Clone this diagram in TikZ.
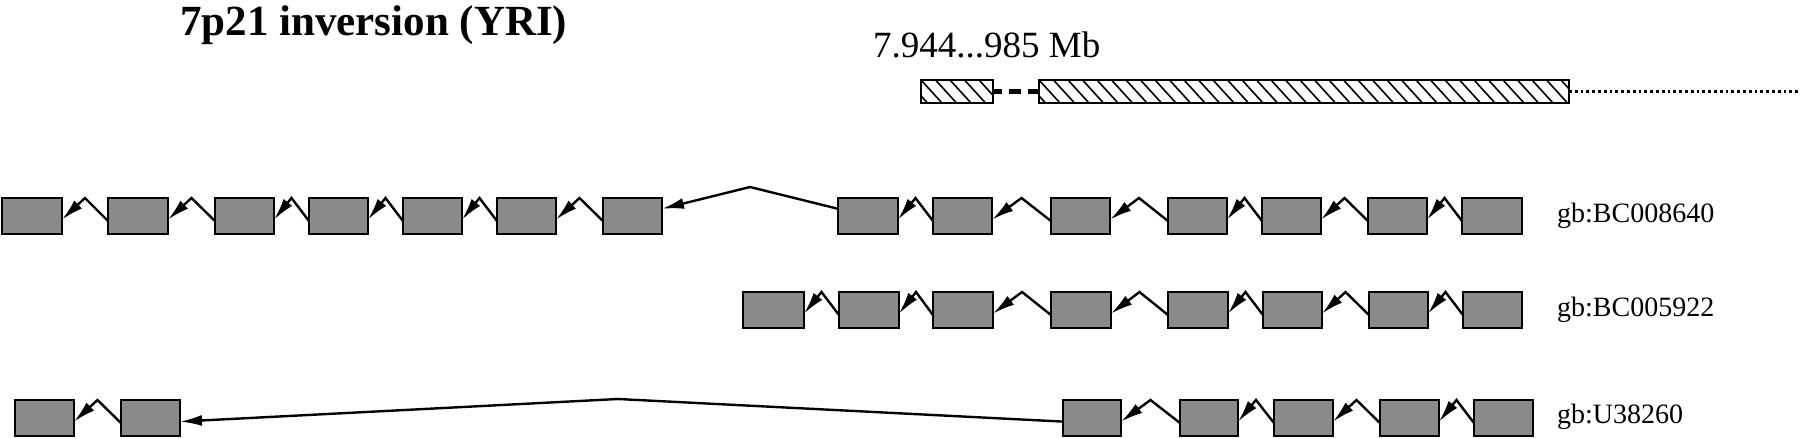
\documentclass[tikz,border=0pt]{standalone}
\usepackage{fontspec}
\setmainfont{Liberation Serif}
\usetikzlibrary{calc,arrows.meta}
\newcommand\myintrons[2]{%
  \foreach \p/\q in {#2}{%
    \draw[intron] ($(#1-\q.north west)!0.64!(#1-\q.south west)$)
      -- ($(#1-\p.north east)!0.5!(#1-\q.north west)$)
      -- ($(#1-\p.north east)!0.6!(#1-\p.south east)$);}}
\begin{document}
\begin{tikzpicture}[x=1pt,y=-1pt,
  exon/.style={draw=black, line width=2.8pt, fill={rgb,255:red,138;green,138;blue,138},
    inner sep=0pt, outer sep=0pt, minimum height=36pt},
  intron/.style={draw=black, line width=2.4pt, line join=miter, -{Latex[length=22pt,width=11pt]}},
  hatchbox/.style={draw=black, line width=2.5pt, inner sep=0pt, outer sep=0pt, minimum height=23pt,
    path picture={\foreach \k in {-3,...,40}{\draw[line width=1.6pt]
      ([xshift=\k*14.5pt]path picture bounding box.north west) -- ++(21pt,-23pt);}}},
  lbl/.style={anchor=base west, inner sep=0pt, font=\fontsize{28}{32}\selectfont}]
\useasboundingbox (0,0) rectangle (1800,439);

% title and coordinate label
\node[anchor=base west, inner sep=0pt, font=\bfseries\fontsize{43}{48}\selectfont] (title) at (180,35) {7p21 inversion (YRI)};
\node[anchor=base west, inner sep=0pt, font=\fontsize{37}{44}\selectfont] (coord) at (873,57) {7.944...985 Mb};

% hatched region
\node[hatchbox, minimum width=72pt] (hs) at (957,91.5) {};
\node[hatchbox, minimum width=530pt] (hb) at (1304,91.5) {};
\coordinate (dotend) at (1800,91.5);
\draw[line width=4.5pt, dash pattern=on 12pt off 7pt, dash phase=3pt] (hs.east) -- (hb.west);
\draw[line width=2.8pt, dash pattern=on 2.8pt off 3pt] (hb.east) -- (dotend);

% row 1
\foreach \n/\a/\b in {1/2/62,2/108/168,3/215/274,4/309/368,5/403/462,6/497/556,7/603/662,
  8/838/898,9/933/992,10/1051/1110,11/1168/1227,12/1262/1321,13/1368/1427,14/1462/1522}
  \node[exon, minimum width={\b-\a}] (r1-\n) at ({(\a+\b)/2},216) {};
\myintrons{r1}{1/2,2/3,3/4,4/5,5/6,6/7,8/9,9/10,10/11,11/12,12/13,13/14}
\coordinate (apex1) at (750,187);
\draw[intron] ($(r1-8.north west)!0.3!(r1-8.south west)$) -- (apex1) -- ($(r1-7.north east)!0.3!(r1-7.south east)$);
\node[lbl] (l1) at (1557,222) {gb:BC008640};

% row 2
\foreach \n/\a/\b in {1/743/804,2/839/899,3/933/993,4/1051/1111,5/1168/1228,6/1263/1322,7/1369/1428,8/1463/1522}
  \node[exon, minimum width={\b-\a}] (r2-\n) at ({(\a+\b)/2},310) {};
\myintrons{r2}{1/2,2/3,3/4,4/5,5/6,6/7,7/8}
\node[lbl] (l2) at (1557,316) {gb:BC005922};

% row 3
\foreach \n/\a/\b in {1/15/74,2/121/180,3/1063/1121,4/1180/1238,5/1274/1333,6/1380/1439,7/1474/1533}
  \node[exon, minimum width={\b-\a}] (r3-\n) at ({(\a+\b)/2},418) {};
\myintrons{r3}{1/2,3/4,4/5,5/6,6/7}
\coordinate (apex3) at (618,399);
\draw[intron] ($(r3-3.north west)!0.6!(r3-3.south west)$) -- (apex3) -- ($(r3-2.north east)!0.6!(r3-2.south east)$);
\node[lbl] (l3) at (1557,423) {gb:U38260};
\end{tikzpicture}
\end{document}
